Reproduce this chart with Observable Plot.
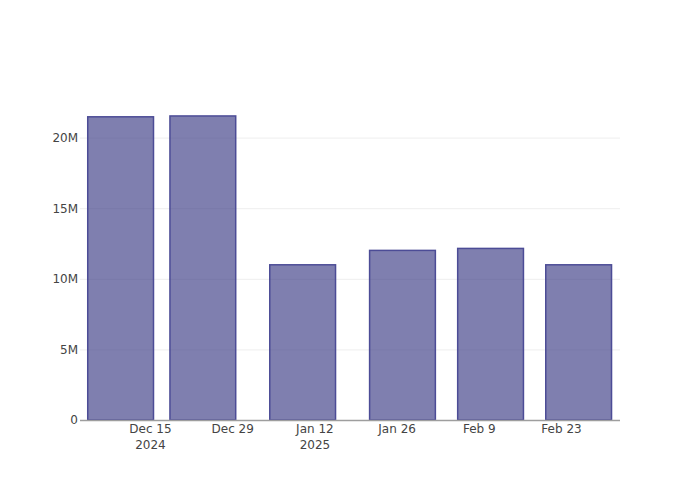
<!DOCTYPE html>
<html>
<head>
<meta charset="utf-8">
<script src="https://cdn.jsdelivr.net/npm/d3@7"></script>
<script src="https://cdn.jsdelivr.net/npm/@observablehq/plot@0.6"></script>
<style>
  body { margin: 0; background: #fff; }
  #chart svg { display: block; }
</style>
</head>
<body>
<div id="chart"></div>
<script>
const dates = ["2024-12-10", "2024-12-24", "2025-01-10", "2025-01-27", "2025-02-11", "2025-02-26"];
const values = [21.47e6, 21.53e6, 10.99e6, 12.01e6, 12.15e6, 10.99e6];
const tickDates = ["2024-12-15", "2024-12-29", "2025-01-12", "2025-01-26", "2025-02-09", "2025-02-23"];
const tickLabels = ["Dec 15\n2024", "Dec 29", "Jan 12\n2025", "Jan 26", "Feb 9", "Feb 23"];
const yTicks = [0, 5e6, 10e6, 15e6, 20e6];
const yTickLabels = ["0", "5M", "10M", "15M", "20M"];
const xDomain = ["2024-12-03T02:00Z", "2025-03-05T01:00Z"];
const yMax = 22.66e6;

const DAY = 864e5;
const halfWidth = 0.8 * 14 * DAY / 2;
const data = dates.map((d, i) => ({date: new Date(d), value: values[i]}));
const ticks = tickDates.map(d => new Date(d));
const tickLabelOf = new Map(ticks.map((t, i) => [+t, tickLabels[i]]));
const yLabelOf = new Map(yTicks.map((t, i) => [t, yTickLabels[i]]));

const chart = Plot.plot({
  width: 700,
  height: 500,
  marginLeft: 80,
  marginRight: 80,
  marginTop: 100,
  marginBottom: 80,
  style: {fontFamily: "'DejaVu Sans', sans-serif", fontSize: "12px", color: "#444", background: "#fff"},
  x: {type: "utc", domain: xDomain.map(d => new Date(d))},
  y: {domain: [0, yMax]},
  marks: [
    Plot.ruleY(yTicks.filter(t => t > 0), {stroke: "#eee", strokeWidth: 1}),
    Plot.rectY(data, {
      x1: d => new Date(+d.date - halfWidth),
      x2: d => new Date(+d.date + halfWidth),
      y: "value",
      fill: "rgb(58,58,132)",
      fillOpacity: 0.65,
      stroke: "rgb(76,76,150)",
      strokeWidth: 1.5
    }),
    Plot.ruleY([0], {stroke: "#9e9e9e", strokeWidth: 1.5}),
    Plot.axisX({
      ticks: ticks,
      tickSize: 0,
      tickPadding: 1.5,
      lineHeight: 1.3,
      tickFormat: d => tickLabelOf.get(+d),
      fill: "#444",
      fontSize: 12,
      label: null
    }),
    Plot.axisY({
      ticks: yTicks,
      tickSize: 0,
      tickPadding: 2.5,
      tickFormat: d => yLabelOf.get(d),
      fill: "#444",
      fontSize: 12,
      label: null
    })
  ]
});
document.getElementById("chart").appendChild(chart);
</script>
</body>
</html>
